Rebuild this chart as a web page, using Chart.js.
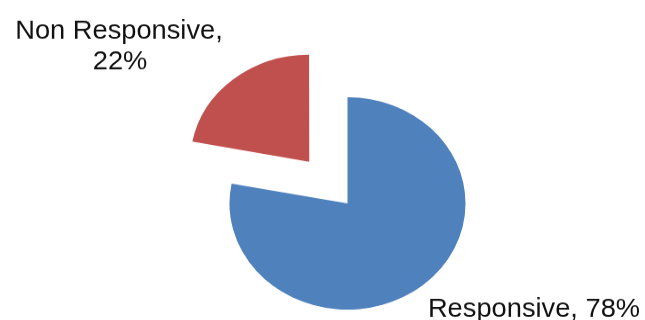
<!DOCTYPE html>
<html>
<head>
<meta charset="utf-8">
<script src="https://cdn.jsdelivr.net/npm/chart.js@4/dist/chart.umd.min.js"></script>
<style>
  html, body { margin: 0; padding: 0; background: #fff; overflow: hidden; }
  #wrap { width: 645px; height: 356px; transform: scaleY(0.9); transform-origin: 0 0; }
</style>
</head>
<body>
<div id="wrap"><canvas id="pie" width="645" height="356"></canvas></div>
<script>
const categories = ["Responsive", "Non Responsive"];
const shares = [78, 22];
const sliceColors = ["#4F81BD", "#C0504D"];
const explode = [0, 240];

// draws text a bit narrower, closer to the Calibri look of the original
function label(ctx, txt, x, y) {
  ctx.save();
  ctx.translate(x, y);
  ctx.scale(0.94, 1);
  ctx.fillText(txt, 0, 0);
  ctx.restore();
}

// data labels, Excel style: "Name, 78%"
const labelPlugin = {
  id: "pieLabels",
  afterDatasetsDraw(chart) {
    const ctx = chart.ctx;
    ctx.save();
    ctx.font = "29px 'Liberation Sans', Arial, sans-serif";
    ctx.fillStyle = "#111";
    ctx.textAlign = "center";
    ctx.textBaseline = "alphabetic";
    // Non Responsive sits above-left, wrapped over two lines
    label(ctx, categories[1] + ",", 119, 43);
    label(ctx, shares[1] + "%", 120, 77);
    // Responsive below-right on one line
    label(ctx, categories[0] + ", " + shares[0] + "%", 534, 352);
    ctx.restore();
  }
};

const ctx = document.getElementById("pie").getContext("2d");
const chart = new Chart(ctx, {
  type: "pie",
  data: {
    labels: categories,
    datasets: [{
      data: shares,
      backgroundColor: sliceColors,
      borderWidth: 0,
      offset: explode,
      radius: 118,
      clip: false
    }]
  },
  options: {
    responsive: false,
    animation: false,
    events: [],
    layout: { padding: { left: 50, right: 0, top: 100, bottom: 4 } },
    plugins: {
      legend: { display: false },
      tooltip: { enabled: false }
    }
  },
  plugins: [labelPlugin]
});
</script>
</body>
</html>
